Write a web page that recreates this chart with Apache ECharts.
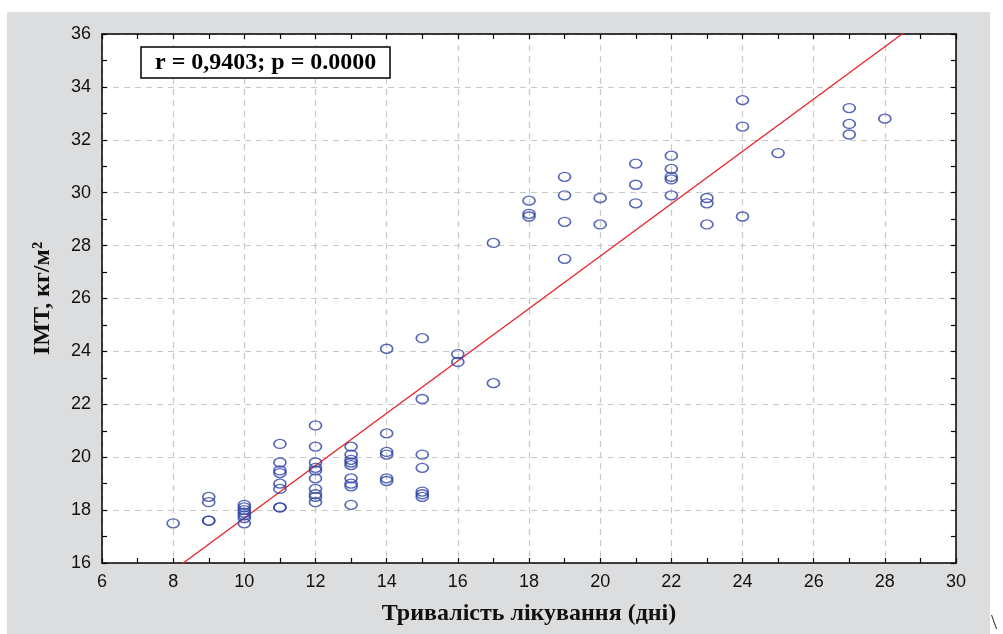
<!DOCTYPE html>
<html>
<head>
<meta charset="utf-8">
<script src="https://cdn.jsdelivr.net/npm/echarts@6/dist/echarts.min.js"></script>
<style>
    body { margin: 0; background: #fff; }
    #back { position: absolute; left: 7px; top: 12px; width: 983px; height: 622px; background: #dcdddf; }
    #chart { position: absolute; left: 0; top: 0; width: 1003px; height: 634px; }
</style>
</head>
<body>
<div id="back"></div>
<div id="chart"></div>
<script>
// тривалість лікування (дні) та IMT для кожного хворого
var days = [
    8,
    9, 9, 9, 9,
    10, 10, 10, 10, 10, 10, 10,
    11, 11, 11, 11, 11, 11, 11, 11,
    12, 12, 12, 12, 12, 12, 12, 12, 12, 12,
    13, 13, 13, 13, 13, 13, 13, 13, 13,
    14, 14, 14, 14, 14, 14,
    15, 15, 15, 15, 15, 15, 15,
    16, 16,
    17, 17,
    18, 18, 18,
    19, 19, 19, 19,
    20, 20,
    21, 21, 21,
    22, 22, 22, 22, 22,
    23, 23, 23,
    24, 24, 24,
    25,
    27, 27, 27,
    28
];
var imt = [
    17.5,
    18.5, 18.3, 17.6, 17.6,
    18.2, 18.1, 18.0, 17.9, 17.8, 17.7, 17.5,
    20.5, 19.8, 19.5, 19.4, 19.0, 18.8, 18.1, 18.1,
    21.2, 20.4, 19.8, 19.6, 19.5, 19.2, 18.8, 18.6, 18.5, 18.3,
    20.4, 20.1, 19.9, 19.8, 19.7, 19.2, 19.0, 18.9, 18.2,
    24.1, 20.9, 20.2, 20.1, 19.2, 19.1,
    24.5, 22.2, 20.1, 19.6, 18.7, 18.6, 18.5,
    23.9, 23.6,
    28.1, 22.8,
    29.7, 29.2, 29.1,
    30.6, 29.9, 28.9, 27.5,
    29.8, 28.8,
    31.1, 30.3, 29.6,
    31.4, 30.9, 30.6, 30.5, 29.9,
    29.8, 29.6, 28.8,
    33.5, 32.5, 29.1,
    31.5,
    33.2, 32.6, 32.2,
    32.8
];
// лінія регресії
var fitIntercept = 7.8;
var fitSlope = 0.99;
var xRange = [6, 30];
var statText = 'r = 0,9403; p = 0.0000';

var points = days.map(function (d, i) { return [d, imt[i]]; });
var fitLine = xRange.map(function (x) { return [x, fitIntercept + fitSlope * x]; });

var chart = echarts.init(document.getElementById('chart'));

var tickFont = { color: '#111', fontSize: 18, fontFamily: 'Liberation Sans, Arial, sans-serif' };
var nameFont = { color: '#111', fontSize: 24, fontWeight: 'bold', fontFamily: 'Liberation Serif, Times New Roman, serif' };
var frameLine = { show: true, onZero: false, lineStyle: { color: '#000', width: 1.5 } };
var ticks = { show: true, inside: true, length: 5, lineStyle: { color: '#000', width: 1.2 } };
var minor = { show: true, splitNumber: 2, length: 5, lineStyle: { color: '#000', width: 1.2 } };
var dashed = { show: true, lineStyle: { color: '#c8c8c8', type: [6, 5], width: 1.2 } };

function edgeAxis(pos, min, max) {
    return {
        type: 'value', position: pos, min: min, max: max, interval: 2,
        axisLine: frameLine, axisTick: ticks, minorTick: minor,
        axisLabel: { show: false }, splitLine: { show: false }
    };
}

var option = {
    animation: false,
    grid: { left: 102, right: 47, top: 34, bottom: 71, show: true, backgroundColor: '#fff', borderWidth: 0 },
    title: {
        text: statText,
        left: 141, top: 47,
        padding: [4, 14, 3, 14],
        borderColor: '#000', borderWidth: 1.5, backgroundColor: '#fff',
        textStyle: { fontSize: 24, fontWeight: 'bold', fontFamily: 'Liberation Serif, Times New Roman, serif', color: '#000' }
    },
    xAxis: [{
        type: 'value', min: 6, max: 30, interval: 2,
        name: 'Тривалість лікування (дні)', nameLocation: 'middle', nameGap: 39,
        nameTextStyle: nameFont,
        axisLine: frameLine, axisTick: ticks, minorTick: minor,
        axisLabel: Object.assign({ margin: 10 }, tickFont),
        splitLine: dashed
    }, edgeAxis('top', 6, 30)],
    yAxis: [{
        type: 'value', min: 16, max: 36, interval: 2,
        name: 'IMT, кг/м²', nameLocation: 'middle', nameGap: 47,
        nameTextStyle: nameFont,
        axisLine: frameLine, axisTick: ticks, minorTick: minor,
        axisLabel: Object.assign({ margin: 11 }, tickFont),
        splitLine: dashed
    }, edgeAxis('right', 16, 36)],
    graphic: [{
        type: 'text', left: 991, top: 612,
        style: { text: '\\', fontSize: 22, fontFamily: 'Liberation Serif, serif', fill: '#333' }
    }],
    series: [{
        type: 'line',
        data: fitLine,
        symbol: 'none',
        clip: true,
        lineStyle: { color: '#e8262b', width: 1.3 },
        z: 3
    }, {
        type: 'scatter',
        data: points,
        symbol: 'circle',
        symbolSize: [12, 9],
        itemStyle: { color: 'rgba(0,0,0,0)', borderColor: '#2c42a2', borderWidth: 1.5 },
        z: 4
    }]
};

chart.setOption(option);
</script>
</body>
</html>
